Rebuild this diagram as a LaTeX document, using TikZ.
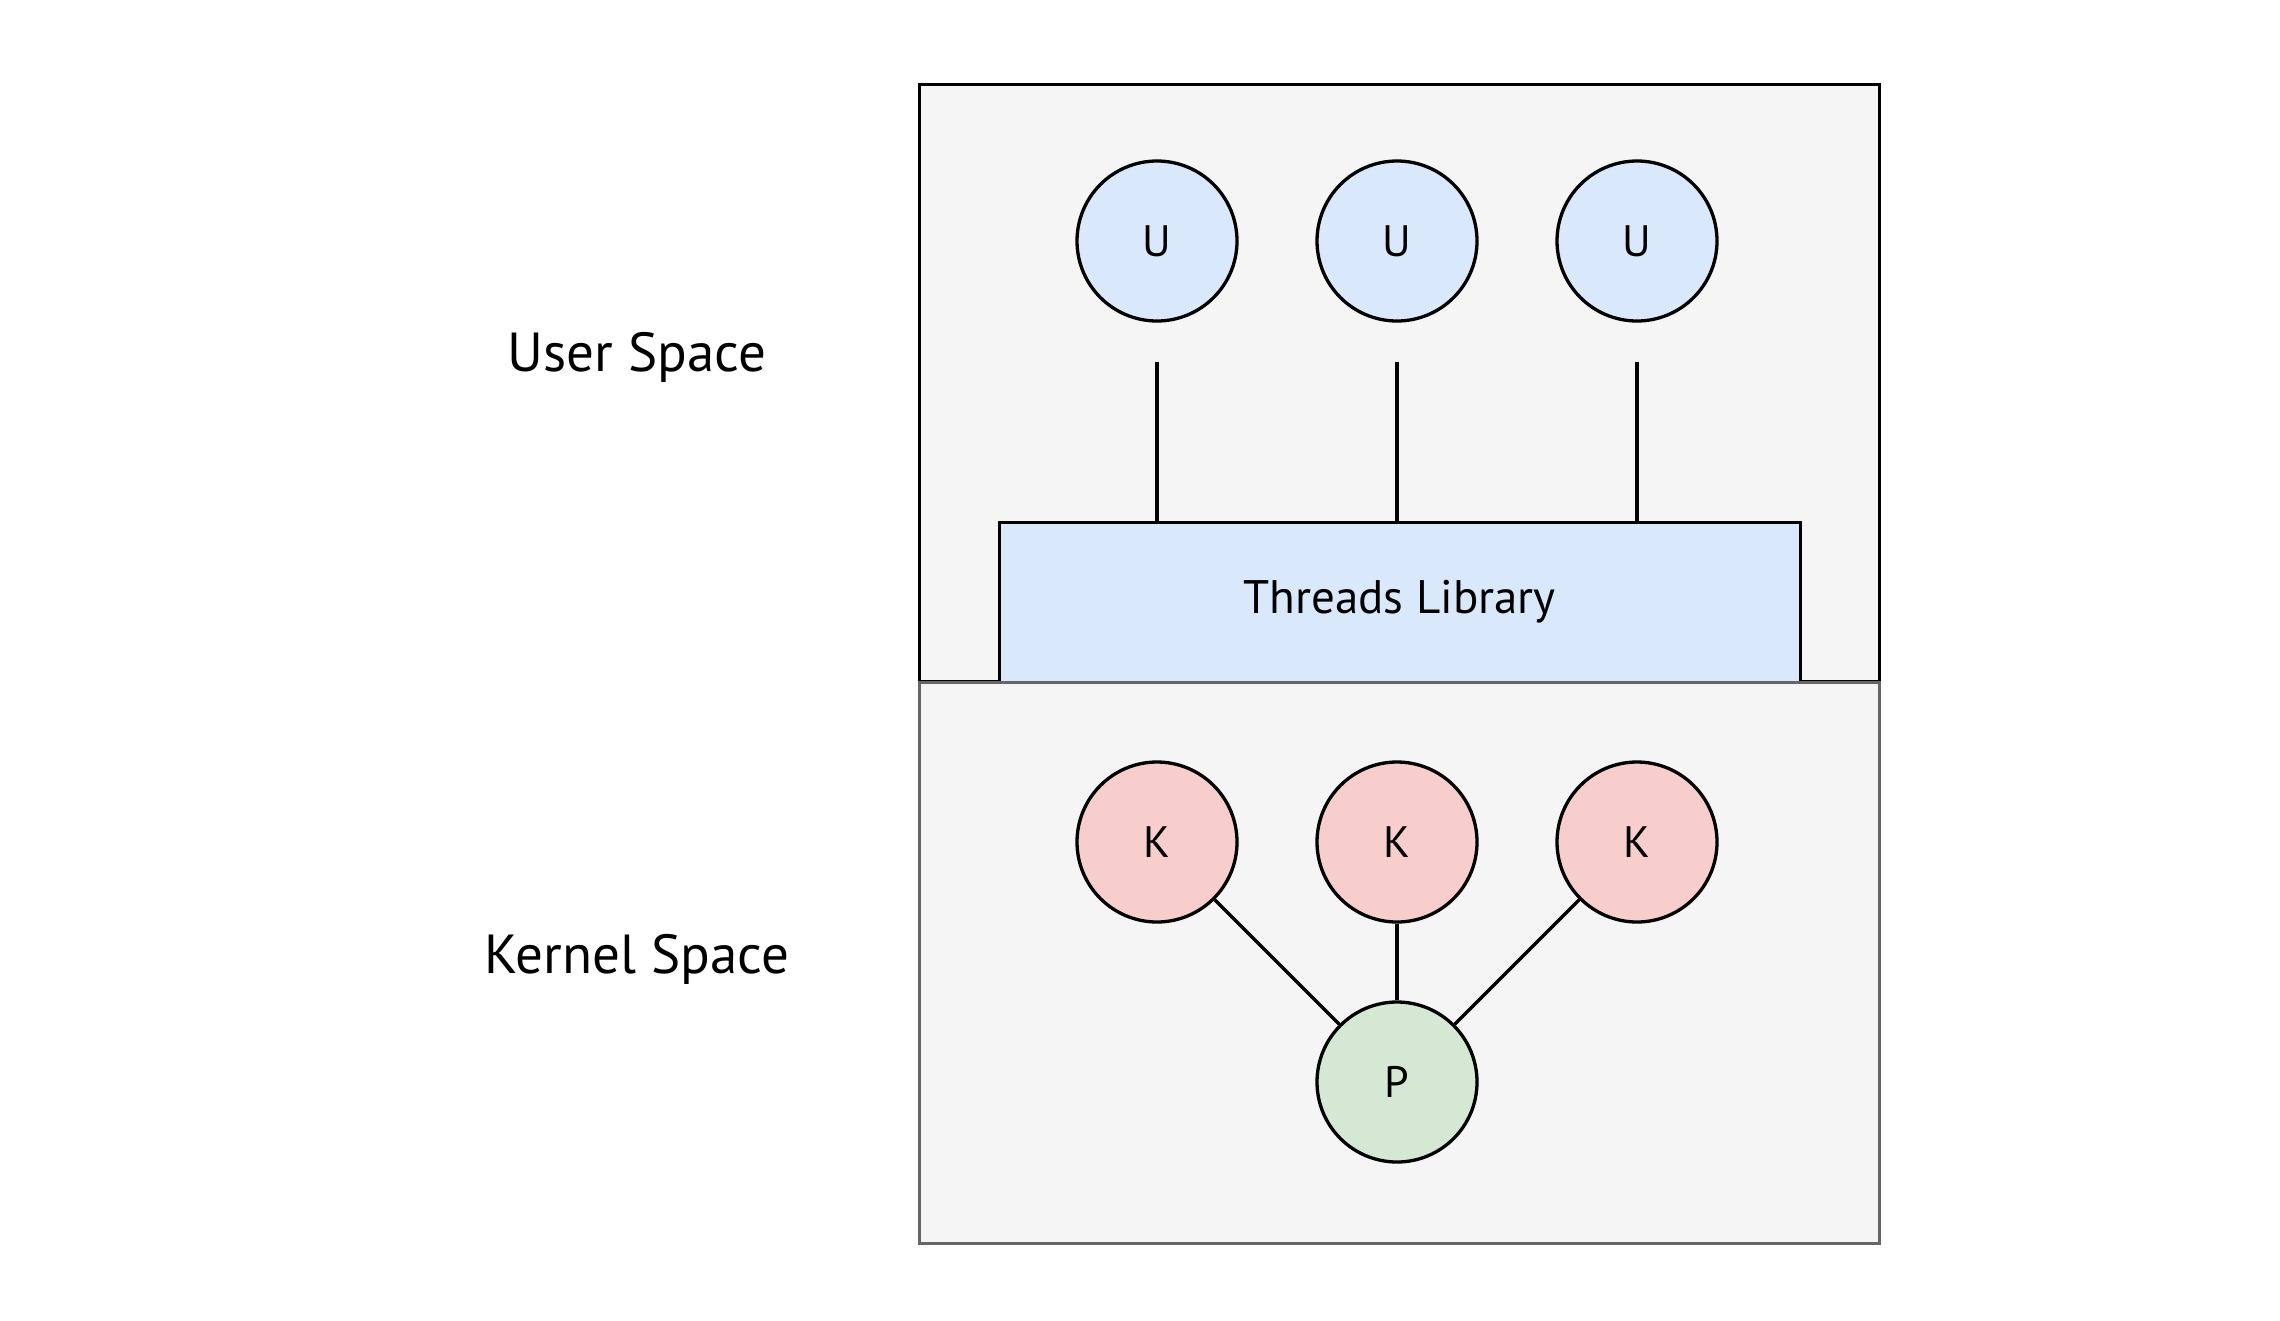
\documentclass[tikz,border=0pt]{standalone}
\usepackage{fontspec}
\setmainfont{PT Sans}
\definecolor{boxfill}{HTML}{F5F5F5}
\definecolor{kborder}{HTML}{666666}
\definecolor{ublue}{HTML}{DAE8FC}
\definecolor{kred}{HTML}{F8CECC}
\definecolor{pgreen}{HTML}{D5E8D4}
\begin{document}
\begin{tikzpicture}[x=1pt,y=-1pt,
  thread/.style={circle,draw=black,line width=3.3pt,minimum size=160pt,inner sep=0pt,
    font=\fontsize{44}{50}\selectfont},
  spacelabel/.style={font=\fontsize{55}{62}\selectfont},
  link/.style={draw=black,line width=3.3pt}]
\useasboundingbox (0,0) rectangle (2280,1320);
\fill[white] (0,0) rectangle (2280,1320);
% user space box
\node[draw=black,fill=boxfill,line width=3.3pt,minimum width=960pt,minimum height=597pt,inner sep=0pt,anchor=north west] (user) at (917.5,83) {};
% threads library
\node[draw=black,fill=ublue,line width=3.3pt,minimum width=801pt,minimum height=160pt,inner sep=0pt,anchor=north west,
  font=\fontsize{47}{52}\selectfont] (tl) at (997.5,520.5) {Threads Library};
% kernel space box
\node[draw=kborder,fill=boxfill,line width=3.3pt,minimum width=960pt,minimum height=561pt,inner sep=0pt,anchor=north west] (kernel) at (917.5,680.5) {};
% labels
\node[spacelabel] (ulab) at (637,357) {User Space};
\node[spacelabel] (klab) at (637,959) {Kernel Space};
% user threads
\node[thread,fill=ublue] (u1) at (1157,241) {U};
\node[thread,fill=ublue] (u2) at (1397,241) {U};
\node[thread,fill=ublue] (u3) at (1637,241) {U};
\coordinate (c1) at (1157,362);
\coordinate (c2) at (1397,362);
\coordinate (c3) at (1637,362);
\draw[link] (c1) -- (c1 |- tl.north);
\draw[link] (c2) -- (c2 |- tl.north);
\draw[link] (c3) -- (c3 |- tl.north);
% kernel threads
\node[thread,fill=kred] (k1) at (1157,842) {K};
\node[thread,fill=kred] (k2) at (1397,842) {K};
\node[thread,fill=kred] (k3) at (1637,842) {K};
\node[thread,fill=pgreen] (p) at (1397,1082) {P};
\draw[link] (k1) -- (p);
\draw[link] (k2) -- (p);
\draw[link] (k3) -- (p);
\end{tikzpicture}
\end{document}
